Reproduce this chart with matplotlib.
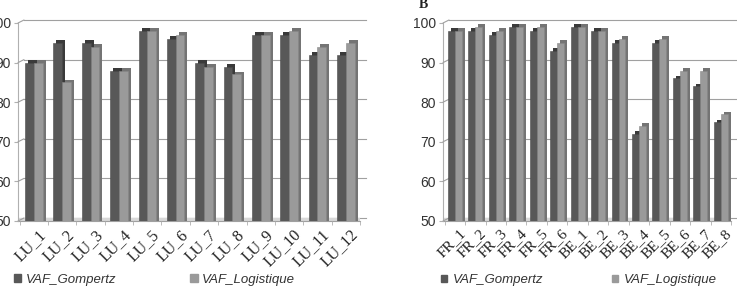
import matplotlib
matplotlib.use("Agg")
import matplotlib.pyplot as plt
from matplotlib.transforms import ScaledTranslation
from matplotlib.patches import Patch
import numpy as np

# ---------------- data ----------------
lu_labels = ["LU_1", "LU_2", "LU_3", "LU_4", "LU_5", "LU_6",
             "LU_7", "LU_8", "LU_9", "LU_10", "LU_11", "LU_12"]
lu_gompertz = [90, 95, 95, 88, 98, 96, 90, 89, 97, 97, 92, 92]
lu_logistique = [90, 85, 94, 88, 98, 97, 89, 87, 97, 98, 94, 95]

frbe_labels = ["FR_1", "FR_2", "FR_3", "FR_4", "FR_5", "FR_6",
               "BE_1", "BE_2", "BE_3", "BE_4", "BE_5", "BE_6", "BE_7", "BE_8"]
frbe_gompertz = [98, 98, 97, 99, 98, 93, 99, 98, 95, 72, 95, 86, 84, 75]
frbe_logistique = [98, 99, 98, 99, 99, 95, 99, 98, 96, 74, 96, 88, 88, 77]

y_ticks = [50, 60, 70, 80, 90, 100]
series_names = ["VAF_Gompertz", "VAF_Logistique"]

# ---------------- style ----------------
W, H, DPI = 737, 289, 100
DARK, DARK_SIDE = "#585858", "#3a3a3a"
LIGHT, LIGHT_SIDE = "#9a9a9a", "#747474"
GRID = "#a0a0a0"
TXT = "#333333"
SANS = ["Liberation Sans", "DejaVu Sans"]
SERIF = ["Liberation Serif", "DejaVu Serif"]

fig = plt.figure(figsize=(W / DPI, H / DPI), dpi=DPI)


def px(x0, y0, x1, y1):
    """axes rect from pixel box (top-left origin)"""
    return [x0 / W, 1 - y1 / H, (x1 - x0) / W, (y1 - y0) / H]


def draw_panel(ax, labels, g, l, xlim, bw, depth=(3, 2.5), back=(6, 3),
               label_size=11, label_shift=4):
    n = len(labels)
    x = np.arange(n)
    ax.set_xlim(*xlim)
    ax.set_ylim(50, 100)
    off_ext = ScaledTranslation(depth[0] / DPI, depth[1] / DPI, fig.dpi_scale_trans)
    off_back = ScaledTranslation(back[0] / DPI, back[1] / DPI, fig.dpi_scale_trans)

    # back wall grid lines
    ytr = ax.get_yaxis_transform()
    for yv in y_ticks:
        ax.plot([0, 1], [yv, yv], transform=ytr + off_back, color=GRID,
                lw=0.8, zorder=0.5, clip_on=False)
        ax.annotate("", xy=(0, yv), xycoords=ytr,
                    xytext=(back[0], back[1]), textcoords="offset pixels",
                    arrowprops=dict(arrowstyle="-", color=GRID, lw=0.8,
                                    shrinkA=0, shrinkB=0))
    # floor
    ax.axhspan(50, 50 + 50 * (back[1] / 198.0), xmin=0, xmax=1,
               color="#d8d8d8", zorder=0.6)
    ax.plot([0, 1], [50, 50], transform=ytr, color=GRID, lw=0.8,
            zorder=0.7, clip_on=False)

    # bars: extrusion (side/top) then front
    ax.bar(x - bw / 2, g, bw, bottom=0, color=DARK_SIDE, zorder=2,
           transform=ax.transData + off_ext)
    ax.bar(x + bw / 2, l, bw, bottom=0, color=LIGHT_SIDE, zorder=2,
           transform=ax.transData + off_ext)
    ax.bar(x - bw / 2, g, bw, color=DARK, zorder=3, edgecolor="#4a4a4a", lw=0.4)
    ax.bar(x + bw / 2, l, bw, color=LIGHT, zorder=3, edgecolor="#888888", lw=0.4)

    # axes cosmetics
    for s in ["top", "right", "bottom"]:
        ax.spines[s].set_visible(False)
    ax.spines["left"].set_color("#b0b0b0")
    ax.spines["left"].set_linewidth(0.8)
    ax.set_yticks(y_ticks)
    ax.set_yticklabels([str(v) for v in y_ticks], fontfamily=SANS,
                       fontsize=10, color=TXT)
    ax.tick_params(axis="y", length=3, color="#b0b0b0", pad=2)

    ax.set_xticks(x)
    ax.set_xticks(np.arange(n + 1) - 0.5, minor=True)
    ax.tick_params(axis="x", which="major", length=0, pad=4)
    ax.tick_params(axis="x", which="minor", length=3, color="#b0b0b0")
    ax.set_xticklabels(labels, rotation=45, ha="right", va="top",
                       rotation_mode="anchor", fontfamily=SERIF,
                       fontsize=label_size, color="#222222")
    for t in ax.get_xticklabels():
        t.set_transform(t.get_transform() +
                        ScaledTranslation(label_shift / DPI, 0, fig.dpi_scale_trans))
    ax.set_facecolor("none")


# left panel
axL = fig.add_axes(px(18, 23, 360, 221))
draw_panel(axL, lu_labels, lu_gompertz, lu_logistique,
           xlim=(-0.56, 11.44), bw=0.31, label_size=11.5)

# right panel
axR = fig.add_axes(px(443, 23, 731, 221))
draw_panel(axR, frbe_labels, frbe_gompertz, frbe_logistique,
           xlim=(-0.58, 13.4), bw=0.34, label_size=11)

# legends
handles = [Patch(color=DARK), Patch(color=LIGHT)]
legL = fig.legend(handles, series_names, loc="center left",
                  bbox_to_anchor=(14 / W, 1 - 280 / H), ncol=2, frameon=False,
                  prop=dict(family=SANS, style="italic", size=9.5),
                  handlelength=0.55, handleheight=0.55, handletextpad=0.35,
                  columnspacing=5.6, borderpad=0, borderaxespad=0)
for t in legL.get_texts():
    t.set_color(TXT)
legR = fig.legend(handles, series_names, loc="center left",
                  bbox_to_anchor=(441 / W, 1 - 280 / H), ncol=2, frameon=False,
                  prop=dict(family=SANS, style="italic", size=9.5),
                  handlelength=0.45, handleheight=0.45, handletextpad=0.45,
                  columnspacing=5.2, borderpad=0, borderaxespad=0)
for t in legR.get_texts():
    t.set_color(TXT)

fig.text(423 / W, 1 - 5 / H, "B", fontfamily=SERIF, fontweight="bold",
         fontsize=10, ha="center", va="center", color="#222222")

fig.savefig("out.png", dpi=DPI)
